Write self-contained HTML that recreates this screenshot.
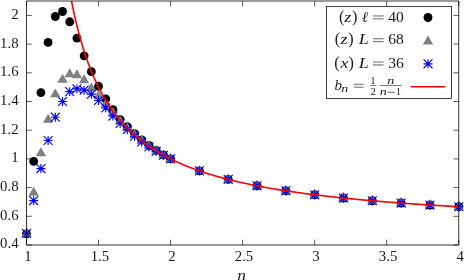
<!DOCTYPE html><html><head><meta charset="utf-8"><style>html,body{margin:0;padding:0;background:#fff;overflow:hidden}svg{display:block;will-change:transform}</style></head><body><svg width="464" height="280" viewBox="0 0 464 280">
<rect width="464" height="280" fill="#fff"/>
<path d="M26.50 245.0v-5.3M26.50 1.0v5.3M98.54 245.0v-5.3M98.54 1.0v5.3M170.58 245.0v-5.3M170.58 1.0v5.3M242.62 245.0v-5.3M242.62 1.0v5.3M314.66 245.0v-5.3M314.66 1.0v5.3M386.70 245.0v-5.3M386.70 1.0v5.3M458.74 245.0v-5.3M458.74 1.0v5.3M26.5 245.00h5.3M458.75 245.00h-5.3M26.5 216.30h5.3M458.75 216.30h-5.3M26.5 187.60h5.3M458.75 187.60h-5.3M26.5 158.90h5.3M458.75 158.90h-5.3M26.5 130.20h5.3M458.75 130.20h-5.3M26.5 101.50h5.3M458.75 101.50h-5.3M26.5 72.80h5.3M458.75 72.80h-5.3M26.5 44.10h5.3M458.75 44.10h-5.3M26.5 15.40h5.3M458.75 15.40h-5.3" stroke="#000" stroke-width="0.65" fill="none"/>
<clipPath id="c"><rect x="26.5" y="1.0" width="432.25" height="244.0"/></clipPath>
<g fill="#000"><circle cx="26.50" cy="233.88" r="4.44"/><circle cx="33.70" cy="161.37" r="4.44"/><circle cx="40.91" cy="92.59" r="4.44"/><circle cx="48.11" cy="42.40" r="4.44"/><circle cx="55.32" cy="16.51" r="4.44"/><circle cx="62.52" cy="11.51" r="4.44"/><circle cx="69.72" cy="21.81" r="4.44"/><circle cx="76.93" cy="38.11" r="4.44"/><circle cx="84.13" cy="55.84" r="4.44"/><circle cx="91.34" cy="71.71" r="4.44"/><circle cx="98.54" cy="86.30" r="4.44"/><circle cx="105.74" cy="98.88" r="4.44"/><circle cx="112.95" cy="109.61" r="4.44"/><circle cx="120.15" cy="119.62" r="4.44"/><circle cx="127.36" cy="126.67" r="4.44"/><circle cx="134.56" cy="133.75" r="4.44"/><circle cx="141.76" cy="139.98" r="4.44"/><circle cx="148.97" cy="145.50" r="4.44"/><circle cx="156.17" cy="150.44" r="4.44"/><circle cx="163.38" cy="154.88" r="4.44"/><circle cx="170.58" cy="158.90" r="4.44"/><circle cx="199.40" cy="170.86" r="4.44"/><circle cx="228.21" cy="179.40" r="4.44"/><circle cx="257.03" cy="185.81" r="4.44"/><circle cx="285.84" cy="190.79" r="4.44"/><circle cx="314.66" cy="194.78" r="4.44"/><circle cx="343.48" cy="198.04" r="4.44"/><circle cx="372.29" cy="200.75" r="4.44"/><circle cx="401.11" cy="203.05" r="4.44"/><circle cx="429.92" cy="205.03" r="4.44"/><circle cx="458.74" cy="206.73" r="4.44"/></g>
<path d="M26.50 227.53L31.65 236.45H21.35zM33.70 186.77L38.86 195.69H28.55zM40.91 147.30L46.06 156.23H35.76zM48.11 113.84L53.26 122.76H42.96zM55.32 88.39L60.47 97.31H50.16zM62.52 73.80L67.67 82.72H57.37zM69.72 68.37L74.88 77.29H64.57zM76.93 69.37L82.08 78.29H71.78zM84.13 74.37L89.28 83.30H78.98zM91.34 82.38L96.49 91.31H86.18zM98.54 90.10L103.69 99.03H93.39zM105.74 98.40L110.90 107.32H100.59zM112.95 106.98L118.10 115.90H107.80zM120.15 115.56L125.30 124.48H115.00zM127.36 122.20L132.51 131.13H122.20zM134.56 129.03L139.71 137.96H129.41zM141.76 135.01L146.92 143.94H136.61zM148.97 140.29L154.12 149.21H143.82zM156.17 144.98L161.32 153.90H151.02zM163.38 149.17L168.53 158.10H158.22zM170.58 152.95L175.73 161.88H165.43zM199.40 164.91L204.55 173.83H194.24zM228.21 173.45L233.36 182.38H223.06zM257.03 179.86L262.18 188.78H251.88zM285.84 184.84L291.00 193.76H280.69zM314.66 188.83L319.81 197.75H309.51zM343.48 192.09L348.63 201.01H338.32zM372.29 194.80L377.44 203.73H367.14zM401.11 197.10L406.26 206.03H395.96zM429.92 199.08L435.08 208.00H424.77zM458.74 200.78L463.89 209.71H453.59z" fill="#808080"/>
<path d="M22.06 233.47H30.94M26.50 229.03V237.91M22.06 229.03L30.94 237.91M22.06 237.91L30.94 229.03M29.26 200.59H38.14M33.70 196.15V205.03M29.26 196.15L38.14 205.03M29.26 205.03L38.14 196.15M36.47 168.55H45.35M40.91 164.11V172.99M36.47 164.11L45.35 172.99M36.47 172.99L45.35 164.11M43.67 140.52H52.55M48.11 136.08V144.96M43.67 136.08L52.55 144.96M43.67 144.96L52.55 136.08M50.88 117.22H59.76M55.32 112.78V121.66M50.88 112.78L59.76 121.66M50.88 121.66L59.76 112.78M58.08 101.49H66.96M62.52 97.05V105.93M58.08 97.05L66.96 105.93M58.08 105.93L66.96 97.05M65.28 91.62H74.16M69.72 87.18V96.06M65.28 87.18L74.16 96.06M65.28 96.06L74.16 87.18M72.49 88.90H81.37M76.93 84.46V93.34M72.49 84.46L81.37 93.34M72.49 93.34L81.37 84.46M79.69 90.19H88.57M84.13 85.75V94.63M79.69 85.75L88.57 94.63M79.69 94.63L88.57 85.75M86.90 94.19H95.78M91.34 89.75V98.63M86.90 89.75L95.78 98.63M86.90 98.63L95.78 89.75M94.10 100.48H102.98M98.54 96.04V104.92M94.10 96.04L102.98 104.92M94.10 104.92L102.98 96.04M101.30 107.92H110.18M105.74 103.48V112.36M101.30 103.48L110.18 112.36M101.30 112.36L110.18 103.48M108.51 116.07H117.39M112.95 111.63V120.51M108.51 111.63L117.39 120.51M108.51 120.51L117.39 111.63M115.71 123.51H124.59M120.15 119.07V127.95M115.71 119.07L124.59 127.95M115.71 127.95L124.59 119.07M122.92 129.63H131.80M127.36 125.19V134.07M122.92 125.19L131.80 134.07M122.92 134.07L131.80 125.19M130.12 136.21H139.00M134.56 131.77V140.65M130.12 131.77L139.00 140.65M130.12 140.65L139.00 131.77M137.32 141.95H146.20M141.76 137.51V146.39M137.32 137.51L146.20 146.39M137.32 146.39L146.20 137.51M144.53 146.98H153.41M148.97 142.54V151.42M144.53 142.54L153.41 151.42M144.53 151.42L153.41 142.54M151.73 151.42H160.61M156.17 146.98V155.86M151.73 146.98L160.61 155.86M151.73 155.86L160.61 146.98M158.94 155.37H167.82M163.38 150.93V159.81M158.94 150.93L167.82 159.81M158.94 159.81L167.82 150.93M166.14 158.90H175.02M170.58 154.46V163.34M166.14 154.46L175.02 163.34M166.14 163.34L175.02 154.46M194.96 170.86H203.84M199.40 166.42V175.30M194.96 166.42L203.84 175.30M194.96 175.30L203.84 166.42M223.77 179.40H232.65M228.21 174.96V183.84M223.77 174.96L232.65 183.84M223.77 183.84L232.65 174.96M252.59 185.81H261.47M257.03 181.37V190.25M252.59 181.37L261.47 190.25M252.59 190.25L261.47 181.37M281.40 190.79H290.28M285.84 186.35V195.23M281.40 186.35L290.28 195.23M281.40 195.23L290.28 186.35M310.22 194.78H319.10M314.66 190.34V199.22M310.22 190.34L319.10 199.22M310.22 199.22L319.10 190.34M339.04 198.04H347.92M343.48 193.60V202.48M339.04 193.60L347.92 202.48M339.04 202.48L347.92 193.60M367.85 200.75H376.73M372.29 196.31V205.19M367.85 196.31L376.73 205.19M367.85 205.19L376.73 196.31M396.67 203.05H405.55M401.11 198.61V207.49M396.67 198.61L405.55 207.49M396.67 207.49L405.55 198.61M425.48 205.03H434.36M429.92 200.59V209.47M425.48 200.59L434.36 209.47M425.48 209.47L434.36 200.59M454.30 206.73H463.18M458.74 202.29V211.17M454.30 202.29L463.18 211.17M454.30 211.17L463.18 202.29" stroke="#0000ff" stroke-width="1.15" fill="none"/>
<path d="M55.32 -128.10 L56.76 -111.02 L58.20 -95.49 L59.64 -81.31 L61.08 -68.31 L62.52 -56.35 L63.96 -45.31 L65.40 -35.09 L66.84 -25.60 L68.28 -16.76 L69.72 -8.52 L71.16 -0.80 L72.61 6.43 L74.05 13.23 L75.49 19.62 L76.93 25.65 L78.37 31.34 L79.81 36.73 L81.25 41.83 L82.69 46.68 L84.13 51.28 L85.57 55.65 L87.01 59.82 L88.45 63.79 L89.90 67.58 L91.34 71.21 L92.78 74.67 L94.22 77.99 L95.66 81.17 L97.10 84.22 L98.54 87.15 L99.98 89.96 L101.42 92.67 L102.86 95.27 L104.30 97.78 L105.74 100.20 L107.18 102.53 L108.63 104.77 L110.07 106.94 L111.51 109.04 L112.95 111.07 L114.39 113.03 L115.83 114.92 L117.27 116.76 L118.71 118.54 L120.15 120.27 L121.59 121.94 L123.03 123.56 L124.47 125.14 L125.92 126.66 L127.36 128.15 L128.80 129.59 L130.24 131.00 L131.68 132.36 L133.12 133.69 L134.56 134.98 L136.00 136.24 L137.44 137.47 L138.88 138.66 L140.32 139.83 L141.76 140.96 L143.20 142.07 L144.65 143.15 L146.09 144.20 L147.53 145.23 L148.97 146.24 L150.41 147.22 L151.85 148.18 L153.29 149.12 L154.73 150.03 L156.17 150.93 L157.61 151.80 L159.05 152.66 L160.49 153.50 L161.94 154.32 L163.38 155.12 L164.82 155.91 L166.26 156.68 L167.70 157.44 L169.14 158.18 L170.58 158.90 L172.02 159.61 L173.46 160.31 L174.90 160.99 L176.34 161.66 L177.78 162.32 L179.22 162.96 L180.67 163.59 L182.11 164.21 L183.55 164.82 L184.99 165.42 L186.43 166.01 L187.87 166.59 L189.31 167.15 L190.75 167.71 L192.19 168.26 L193.63 168.80 L195.07 169.33 L196.51 169.84 L197.96 170.36 L199.40 170.86 L200.84 171.35 L202.28 171.84 L203.72 172.32 L205.16 172.79 L206.60 173.25 L208.04 173.71 L209.48 174.15 L210.92 174.60 L212.36 175.03 L213.80 175.46 L215.24 175.88 L216.69 176.29 L218.13 176.70 L219.57 177.11 L221.01 177.50 L222.45 177.89 L223.89 178.28 L225.33 178.66 L226.77 179.03 L228.21 179.40 L229.65 179.76 L231.09 180.12 L232.53 180.48 L233.98 180.82 L235.42 181.17 L236.86 181.51 L238.30 181.84 L239.74 182.17 L241.18 182.50 L242.62 182.82 L244.06 183.13 L245.50 183.45 L246.94 183.75 L248.38 184.06 L249.82 184.36 L251.26 184.66 L252.71 184.95 L254.15 185.24 L255.59 185.52 L257.03 185.81 L258.47 186.08 L259.91 186.36 L261.35 186.63 L262.79 186.90 L264.23 187.17 L265.67 187.43 L267.11 187.69 L268.55 187.94 L270.00 188.19 L271.44 188.44 L272.88 188.69 L274.32 188.93 L275.76 189.18 L277.20 189.41 L278.64 189.65 L280.08 189.88 L281.52 190.11 L282.96 190.34 L284.40 190.57 L285.84 190.79 L287.28 191.01 L288.73 191.23 L290.17 191.44 L291.61 191.66 L293.05 191.87 L294.49 192.07 L295.93 192.28 L297.37 192.49 L298.81 192.69 L300.25 192.89 L301.69 193.08 L303.13 193.28 L304.57 193.47 L306.02 193.67 L307.46 193.86 L308.90 194.04 L310.34 194.23 L311.78 194.41 L313.22 194.59 L314.66 194.77 L316.10 194.95 L317.54 195.13 L318.98 195.31 L320.42 195.48 L321.86 195.65 L323.30 195.82 L324.75 195.99 L326.19 196.15 L327.63 196.32 L329.07 196.48 L330.51 196.65 L331.95 196.81 L333.39 196.96 L334.83 197.12 L336.27 197.28 L337.71 197.43 L339.15 197.59 L340.59 197.74 L342.04 197.89 L343.48 198.04 L344.92 198.18 L346.36 198.33 L347.80 198.48 L349.24 198.62 L350.68 198.76 L352.12 198.90 L353.56 199.04 L355.00 199.18 L356.44 199.32 L357.88 199.45 L359.32 199.59 L360.77 199.72 L362.21 199.86 L363.65 199.99 L365.09 200.12 L366.53 200.25 L367.97 200.38 L369.41 200.50 L370.85 200.63 L372.29 200.75 L373.73 200.88 L375.17 201.00 L376.61 201.12 L378.06 201.24 L379.50 201.36 L380.94 201.48 L382.38 201.60 L383.82 201.72 L385.26 201.83 L386.70 201.95 L388.14 202.06 L389.58 202.18 L391.02 202.29 L392.46 202.40 L393.90 202.51 L395.34 202.62 L396.79 202.73 L398.23 202.84 L399.67 202.95 L401.11 203.05 L402.55 203.16 L403.99 203.26 L405.43 203.37 L406.87 203.47 L408.31 203.57 L409.75 203.68 L411.19 203.78 L412.63 203.88 L414.08 203.98 L415.52 204.08 L416.96 204.17 L418.40 204.27 L419.84 204.37 L421.28 204.46 L422.72 204.56 L424.16 204.65 L425.60 204.75 L427.04 204.84 L428.48 204.93 L429.92 205.02 L431.36 205.12 L432.81 205.21 L434.25 205.30 L435.69 205.39 L437.13 205.47 L438.57 205.56 L440.01 205.65 L441.45 205.74 L442.89 205.82 L444.33 205.91 L445.77 205.99 L447.21 206.08 L448.65 206.16 L450.10 206.25 L451.54 206.33 L452.98 206.41 L454.42 206.49 L455.86 206.57 L457.30 206.65 L458.74 206.73" stroke="#f00" stroke-width="1.6" fill="none" clip-path="url(#c)"/>
<path d="M26.5 1.0V245.0H458.75V1.0z" stroke="#000" stroke-width="0.8" fill="none"/>
<rect x="326.5" y="6.45" width="125.0" height="92.05" fill="#fff" stroke="#000" stroke-width="0.75"/>
<circle cx="428" cy="17.5" r="4.44" fill="#000"/>
<path d="M428.00 35.45L433.15 44.38H422.85z" fill="#808080"/>
<path d="M423.56 63.80H432.44M428.00 59.36V68.24M423.56 59.36L432.44 68.24M423.56 68.24L432.44 59.36" stroke="#0000ff" stroke-width="1.15" fill="none"/>
<path d="M410.7 86.8H445.4" stroke="#f00" stroke-width="1.6"/>
<path d="M370.2 85.5H376.3M379.8 85.5H401.7" stroke="#222" stroke-width="0.6"/>
<g font-family="'Liberation Serif', serif" font-size="14.8" fill="#1a1a1a"><text x="18.6" y="248.40" text-anchor="end">0.4</text><text x="18.6" y="219.70" text-anchor="end">0.6</text><text x="18.6" y="191.00" text-anchor="end">0.8</text><text x="18.6" y="162.30" text-anchor="end">1</text><text x="18.6" y="133.60" text-anchor="end">1.2</text><text x="18.6" y="104.90" text-anchor="end">1.4</text><text x="18.6" y="76.20" text-anchor="end">1.6</text><text x="18.6" y="47.50" text-anchor="end">1.8</text><text x="18.6" y="18.80" text-anchor="end">2</text><text x="27.90" y="261.2" text-anchor="middle">1</text><text x="99.94" y="261.2" text-anchor="middle">1.5</text><text x="171.98" y="261.2" text-anchor="middle">2</text><text x="244.02" y="261.2" text-anchor="middle">2.5</text><text x="316.06" y="261.2" text-anchor="middle">3</text><text x="388.10" y="261.2" text-anchor="middle">3.5</text><text x="460.14" y="261.2" text-anchor="middle">4</text><text x="237.3" y="279.8" font-style="italic" textLength="8.7" lengthAdjust="spacingAndGlyphs">n</text><text x="338.9" y="21.700000000000003" font-size="16.2">(</text><text x="344.2" y="21.6" font-style="italic" textLength="7.0" lengthAdjust="spacingAndGlyphs">z</text><text x="352.0" y="21.700000000000003" font-size="16.2">)</text><text x="361.8" y="21.6" font-style="italic">ℓ</text><text x="388.2" y="21.6" textLength="15.6" lengthAdjust="spacingAndGlyphs">40</text><text x="334.7" y="44.199999999999996" font-size="16.2">(</text><text x="340.4" y="44.4" font-style="italic" textLength="7.0" lengthAdjust="spacingAndGlyphs">z</text><text x="348.2" y="44.199999999999996" font-size="16.2">)</text><text x="358.8" y="44.4" font-style="italic" textLength="10.0" lengthAdjust="spacingAndGlyphs">L</text><text x="388.2" y="44.4" textLength="15.6" lengthAdjust="spacingAndGlyphs">68</text><text x="334.2" y="67.5" font-size="16.2">(</text><text x="340.5" y="67.7" font-style="italic" textLength="8.0" lengthAdjust="spacingAndGlyphs">x</text><text x="348.6" y="67.5" font-size="16.2">)</text><text x="358.8" y="67.7" font-style="italic" textLength="10.0" lengthAdjust="spacingAndGlyphs">L</text><text x="388.2" y="67.7" textLength="15.6" lengthAdjust="spacingAndGlyphs">36</text><text x="334.4" y="90.2" font-style="italic">b</text><text x="341.2" y="91.7" font-style="italic" font-size="10.5" textLength="7.0" lengthAdjust="spacingAndGlyphs">n</text><text x="370.4" y="83.6" font-size="10.0">1</text><text x="370.4" y="94.5" font-size="10.0" textLength="5.4" lengthAdjust="spacingAndGlyphs">2</text><text x="387.3" y="83.6" font-style="italic" font-size="10.5" textLength="7.0" lengthAdjust="spacingAndGlyphs">n</text><text x="379.8" y="94.5" font-style="italic" font-size="10.5" textLength="7.0" lengthAdjust="spacingAndGlyphs">n</text><text x="395.9" y="94.5" font-size="10.0">1</text></g>
<path d="M373.0 15.95H383.6M373.0 18.85H383.6M373.0 38.75H383.6M373.0 41.65H383.6M373.0 62.05H383.6M373.0 64.95H383.6M353.8 84.25H363.6M353.8 87.15H363.6M387.6 92.3H394.6" stroke="#222" stroke-width="0.7" fill="none"/>
</svg></body></html>
